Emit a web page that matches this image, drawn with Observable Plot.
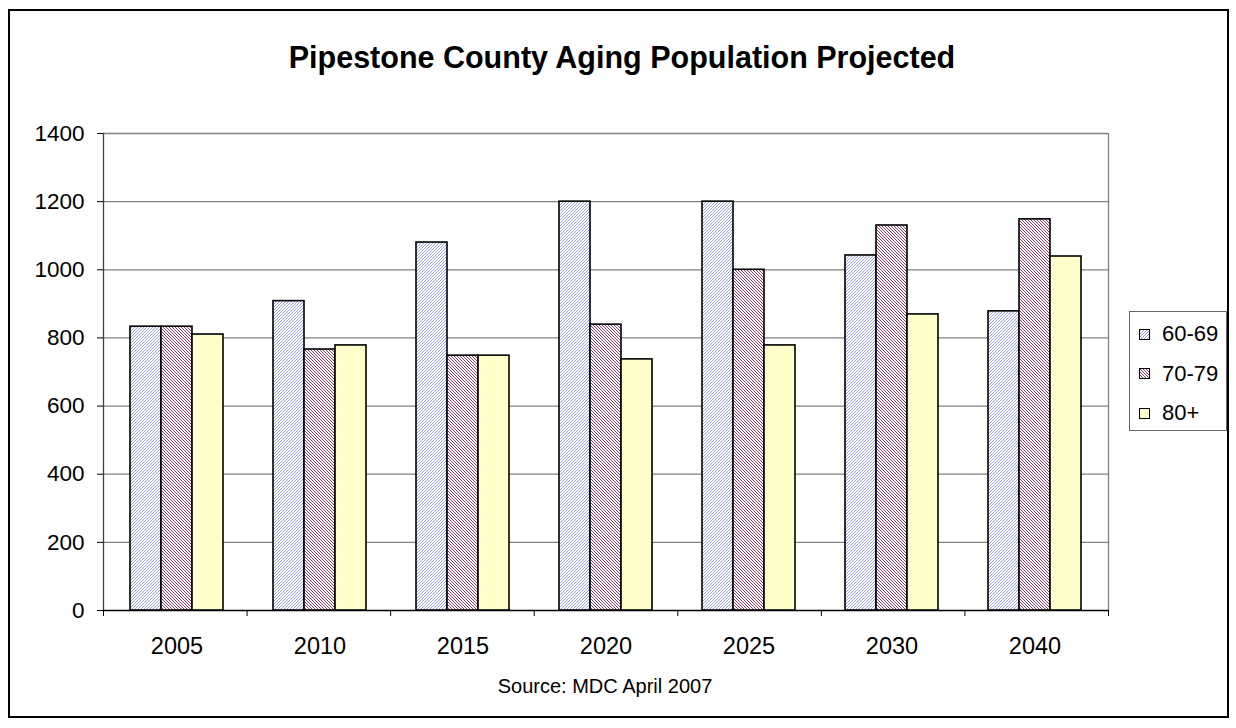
<!DOCTYPE html>
<html>
<head>
<meta charset="utf-8">
<script src="https://cdn.jsdelivr.net/npm/d3@7"></script>
<script src="https://cdn.jsdelivr.net/npm/@observablehq/plot@0.6"></script>
<style>
  body { margin: 0; background: #fff; font-family: "Liberation Sans", Arial, sans-serif; color: #000; }
  #frame { position: absolute; left: 8px; top: 9px; width: 1221px; height: 709px; border: 2px solid #000; box-sizing: border-box; }
  #title { position: absolute; left: 0; top: 42px; width: 1244px; text-align: center; font-weight: bold; font-size: 30.5px; line-height: 30px; }
  #source { position: absolute; left: 0; top: 676px; width: 1210px; text-align: center; font-size: 20px; line-height: 20px; }
  .layer { position: absolute; left: 0; top: 100px; }
  #legend { position: absolute; left: 1129px; top: 311px; width: 98px; height: 120px; border: 1px solid #666; box-sizing: border-box; background: #fff; }
  .item { position: absolute; left: 9px; height: 24px; display: flex; align-items: center; font-size: 22px; line-height: 24px; }
  .item svg { margin-right: 12px; }
  pattern rect { shape-rendering: crispEdges; }
</style>
</head>
<body>
<svg width="0" height="0" style="position:absolute">
  <defs>
    <pattern id="hatchA" patternUnits="userSpaceOnUse" x="0" y="0" width="3" height="3">
      <rect width="3" height="3" fill="#fff"/>
      <g fill="#9a9eff">
        <rect x="2" y="0" width="1" height="1"/>
        <rect x="1" y="1" width="1" height="1"/>
        <rect x="0" y="2" width="1" height="1"/>
      </g>
    </pattern>
    <pattern id="hatchB" patternUnits="userSpaceOnUse" x="0" y="0" width="3" height="3">
      <rect width="3" height="3" fill="#fff"/>
      <g fill="#9a386a">
        <rect x="0" y="0" width="1" height="1"/>
        <rect x="1" y="1" width="1" height="1"/>
        <rect x="2" y="2" width="1" height="1"/>
      </g>
    </pattern>
  </defs>
</svg>
<div id="frame"></div>
<div id="title"></div>
<div id="bg" class="layer"></div>
<div id="fg" class="layer"></div>
<div id="legend"></div>
<div id="source"></div>
<script>
const titleText = "Pipestone County Aging Population Projected";
const sourceText = "Source: MDC April 2007";
const years = ["2005", "2010", "2015", "2020", "2025", "2030", "2040"];
const series = ["60-69", "70-79", "80+"];
const values6069 = [833, 908, 1080, 1200, 1200, 1042, 878];
const values7079 = [833, 766, 748, 839, 1000, 1130, 1148];
const values80 = [810, 778, 748, 737, 778, 869, 1039];
const yTicks = [0, 200, 400, 600, 800, 1000, 1200, 1400];
const seriesFills = ["url(#hatchA)", "url(#hatchB)", "#ffffcc"];

const valuesBySeries = [values6069, values7079, values80];
const data = years.flatMap((yr, i) => series.map((s, j) => ({year: yr, series: s, value: valuesBySeries[j][i]})));

document.getElementById("title").textContent = titleText;
document.getElementById("source").textContent = sourceText;

const W = 1236, H = 570;
const margins = {marginLeft: 103, marginRight: 128, marginTop: 33, marginBottom: 60};
const style = {fontFamily: "'Liberation Sans', Arial, sans-serif", fontSize: "22.5px", color: "#000", background: "transparent"};

// Background: gridlines, plot-area border, value axis and category boundary ticks
const bg = Plot.plot({
  width: W, height: H, ...margins, style,
  x: {domain: [0, years.length], axis: null},
  y: {domain: [0, 1400], axis: null},
  marks: [
    Plot.ruleY(yTicks.slice(1), {stroke: "#808080", strokeWidth: 1.3}),
    Plot.ruleX([years.length], {stroke: "#808080", strokeWidth: 1.3}),
    Plot.ruleX([0], {stroke: "#404040", strokeWidth: 1.3}),
    Plot.axisY(yTicks, {anchor: "left", tickSize: 6, tickPadding: 13, label: null, tickFormat: d => String(d)}),
    Plot.axisX(d3.range(years.length + 1), {anchor: "bottom", tickSize: 6, tickPadding: 0, label: null, tickFormat: () => ""}),
    Plot.ruleY([0], {stroke: "#000", strokeWidth: 1.3})
  ]
});
document.getElementById("bg").appendChild(bg);

// Foreground: grouped bars and category labels
const fg = Plot.plot({
  width: W, height: H, ...margins, style: {...style, fontSize: "23.5px"},
  fx: {domain: years, paddingInner: 1 / 3, paddingOuter: 1 / 6, label: null},
  x: {domain: series, padding: 0, axis: null},
  y: {domain: [0, 1400], axis: null},
  color: {domain: series, range: seriesFills},
  marks: [
    Plot.barY(data, {fx: "year", x: "series", y: "value", fill: "series", stroke: "#000", strokeWidth: 1.6}),
    Plot.axisFx({anchor: "bottom", tickSize: 0, tickPadding: 27, label: null})
  ]
});
document.getElementById("fg").appendChild(fg);

// Legend
const legend = document.getElementById("legend");
series.forEach((s, i) => {
  const item = document.createElement("div");
  item.className = "item";
  item.style.top = (10 + i * 39.5) + "px";
  item.innerHTML = `<svg width="11" height="11"><rect x="0.5" y="0.5" width="10" height="10" fill="${seriesFills[i]}" stroke="#000" stroke-width="1"/></svg><span>${s}</span>`;
  legend.appendChild(item);
});
</script>
</body>
</html>
